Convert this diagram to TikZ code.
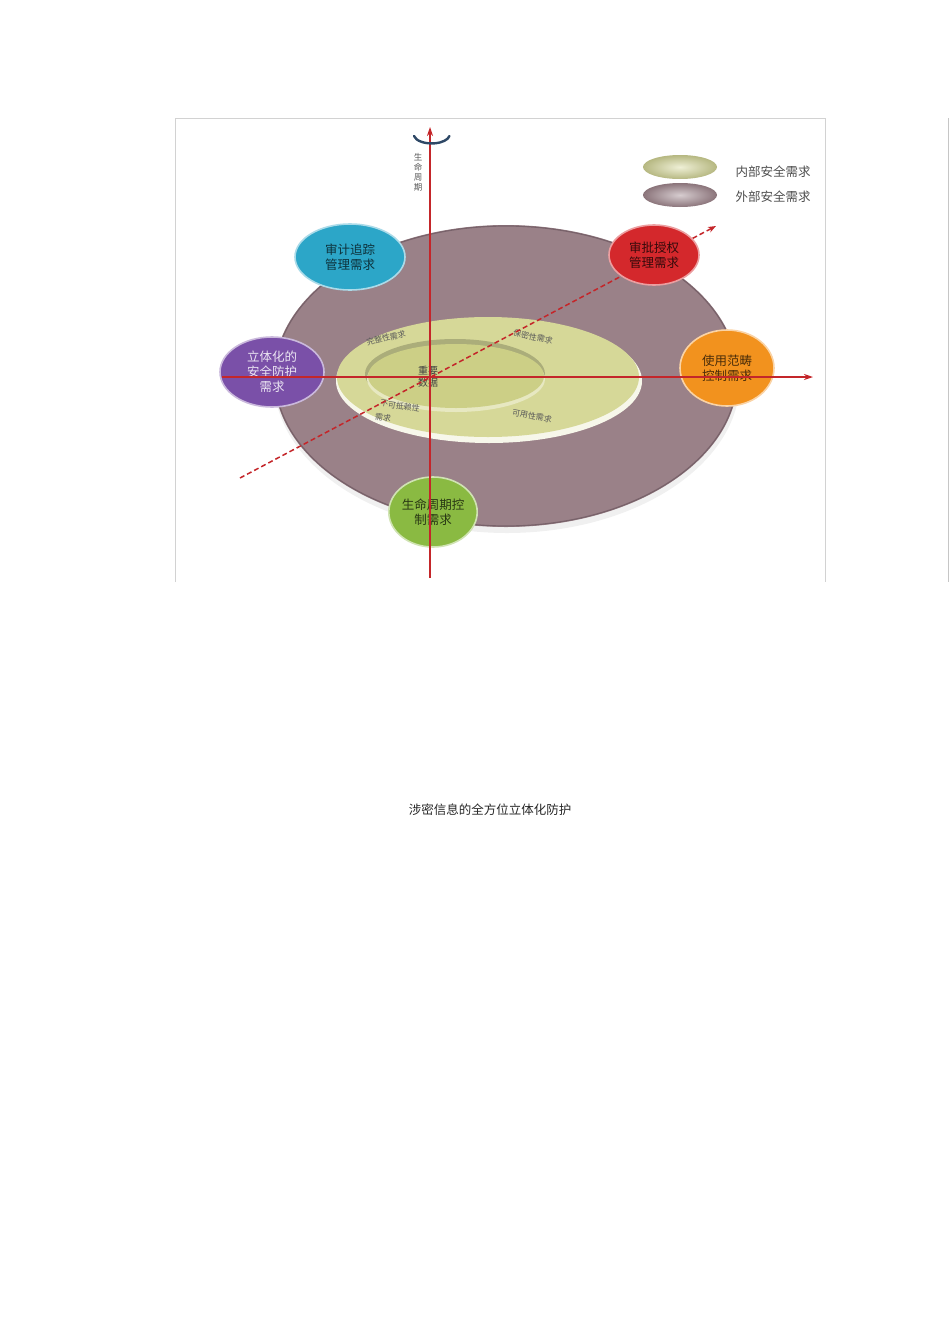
\documentclass[tikz,border=0pt]{standalone}
\usepackage{fontspec}
\setmainfont{Noto Sans CJK SC}
\usetikzlibrary{positioning}
\usetikzlibrary{calc}
\usetikzlibrary{arrows.meta,shapes}

\definecolor{discmauve}{RGB}{154,129,136}
\definecolor{discrim}{RGB}{120,98,106}
\definecolor{ringolive}{RGB}{214,216,152}
\definecolor{coreolive}{RGB}{204,207,134}
\definecolor{axisred}{RGB}{196,38,42}
\definecolor{cyanbub}{RGB}{44,166,200}
\definecolor{redbub}{RGB}{212,40,44}
\definecolor{purplebub}{RGB}{122,80,168}
\definecolor{orangebub}{RGB}{242,146,30}
\definecolor{greenbub}{RGB}{138,186,66}
\definecolor{hookblue}{RGB}{46,72,102}

\tikzset{
  bubble/.style={ellipse, inner sep=0pt, align=center,
    font=\fontsize{12.5}{15}\selectfont, line width=1.6pt},
  axis/.style={axisred, line width=1.2pt, -{Stealth[length=9pt,width=6pt]}},
  ringtext/.style={font=\fontsize{8}{10}\selectfont, text=black!65, inner sep=0.5pt},
}

\begin{document}
\begin{tikzpicture}[x=1pt,y=-1pt]
\useasboundingbox (0,0) rectangle (950,1344);

% frame
\draw[gray!35, line width=0.6pt] (175,582) -- (175,118) -- (825,118) -- (825,582);
\draw[gray!45, line width=0.6pt] (948,118) -- (948,582);

% outer disc
\fill[gray!12] (507,380) ellipse [x radius=233pt, y radius=153pt];
\fill[discmauve] (506,376) ellipse [x radius=232pt, y radius=151pt];
\draw[discrim, line width=1.2pt] (506,376) ellipse [x radius=231pt, y radius=150pt];

% inner rings
\fill[white!80!ringolive] (489,381) ellipse [x radius=153pt, y radius=62pt];
\fill[ringolive] (488,377) ellipse [x radius=151pt, y radius=60pt];
\fill[black!20!ringolive] (455,374) ellipse [x radius=90pt, y radius=35pt];
\fill[white!40!ringolive] (456,379) ellipse [x radius=89pt, y radius=33pt];
\fill[coreolive] (456,376) ellipse [x radius=88pt, y radius=32pt];

\node[ringtext, rotate=14] (ringa) at (386,338) {完整性需求};
\node[ringtext, rotate=-12] (ringb) at (533,337) {保密性需求};
\node[ringtext, rotate=-9] (ringc) at (400,406) {不可抵赖性};
\node[ringtext, rotate=-9] (ringe) at (383,418) {需求};
\node[ringtext, rotate=-10] (ringd) at (532,416) {可用性需求};
\node[font=\fontsize{10}{12}\selectfont, text=black!75, align=center] (core) at (428,377) {重要\\数据};

% dashed diagonal
\coordinate (dstart) at (240,478);
\coordinate (dend) at (716,226);
\draw[axisred, line width=1.5pt, dash pattern=on 5pt off 3pt, -{Stealth[length=8pt,width=6pt]}] (dstart) -- (dend);

% need bubbles
\node[bubble, fill=cyanbub, draw=cyanbub!40!white, text=black!70!cyanbub,
  minimum width=110pt, minimum height=66pt] (audit) at (350,257) {审计追踪\\管理需求};
\node[bubble, fill=redbub, draw=redbub!45!white, text=black!75!redbub,
  minimum width=90pt, minimum height=60pt] (grant) at (654,255) {审批授权\\管理需求};
\node[bubble, fill=purplebub, draw=purplebub!40!white, text=purplebub!15!white,
  minimum width=104pt, minimum height=70pt] (solid) at (272,372) {立体化的\\安全防护\\需求};
\node[bubble, fill=orangebub, draw=orangebub!40!white, text=black!70!orangebub,
  minimum width=94pt, minimum height=76pt] (scope) at (727,368) {使用范畴\\控制需求};
\node[bubble, fill=greenbub, draw=greenbub!40!white, text=black!70!greenbub,
  minimum width=80pt, minimum height=70pt] (life) at (433,512) {生命周期控\\制需求};

% axes
\coordinate (vbot) at (430,578);
\coordinate (vtop) at (430,127);
\coordinate (hleft) at (222,377);
\coordinate (hright) at (813,377);
\draw[axis] (vbot) -- (vtop);
\draw[axis] (hleft) -- (hright);

% cycle hook
\draw[hookblue, line width=2.4pt, line cap=round] (414,136) arc [start angle=190, end angle=350, x radius=18pt, y radius=9pt];
\node[font=\fontsize{8.5}{10}\selectfont, text=black!65, align=center] (cycle) at (418,172) {生\\命\\周\\期};

% legend
\shade[inner color=ringolive!40!white, outer color=black!15!ringolive] (680,167) ellipse [x radius=37pt, y radius=12pt];
\shade[inner color=discmauve!40!white, outer color=black!10!discmauve] (680,195) ellipse [x radius=37pt, y radius=12pt];
\node[font=\fontsize{12.5}{14}\selectfont, text=black!70, anchor=west] (legin) at (732,172) {内部安全需求};
\node[font=\fontsize{12.5}{14}\selectfont, text=black!70, anchor=west] (legout) at (732,197) {外部安全需求};

% caption
\node[font=\fontsize{12.5}{15}\selectfont, text=black!85] (caption) at (490,810) {涉密信息的全方位立体化防护};

\end{tikzpicture}
\end{document}
